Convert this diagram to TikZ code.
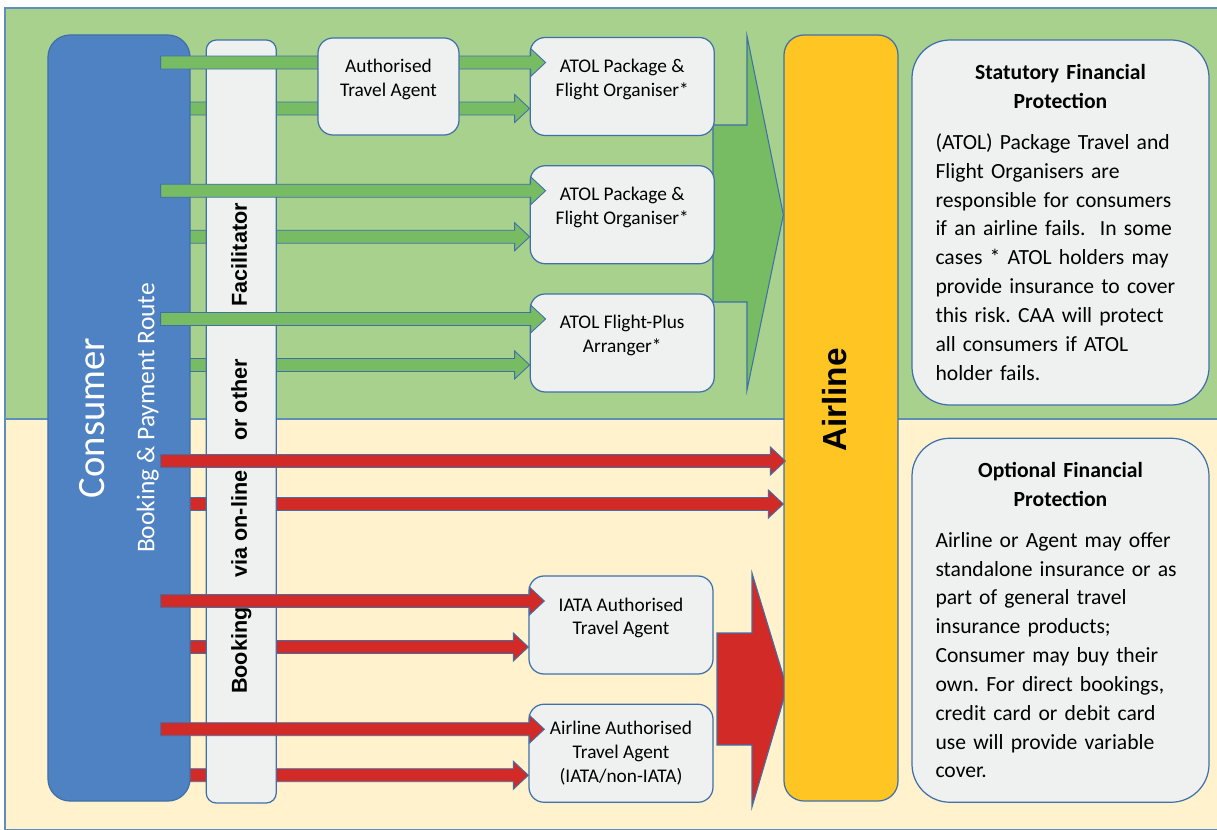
\documentclass[tikz,border=0pt]{standalone}
\usepackage{fontspec}
\setmainfont{Carlito}
\newfontfamily\arialfont{Liberation Sans}
\usetikzlibrary{positioning,calc}

\definecolor{bggreen}{HTML}{A9D18E}
\definecolor{bgcream}{HTML}{FFF2CC}
\definecolor{framec}{HTML}{5E8FBA}
\definecolor{edgeblue}{HTML}{3F70AA}
\definecolor{consblue}{HTML}{4F82C2}
\definecolor{boxgray}{HTML}{EFF0F0}
\definecolor{airyellow}{HTML}{FFC522}
\definecolor{arrgreen}{HTML}{77BB63}
\definecolor{arrred}{HTML}{D12A27}

\pgfdeclarelayer{bg}
\pgfdeclarelayer{low}
\pgfdeclarelayer{front}
\pgfsetlayers{bg,low,main,front}

\begin{document}
\begin{tikzpicture}[
            x=0.2mm, y=-0.2mm,
            font=\fontsize{11}{13.6}\selectfont,
            node distance=5.8mm and 14mm,
            zone/.style={draw=framec, line width=1pt},
            bar/.style={draw=edgeblue, line width=0.7pt, minimum height=153.2mm},
            agent/.style={draw=edgeblue, line width=0.7pt, fill=boxgray, rounded corners=3mm,
            minimum width=36.8mm, minimum height=19.6mm, align=center},
            lift/.style={text depth=3.5mm},
            sidebox/.style={draw=edgeblue, line width=0.7pt, fill=boxgray, rounded corners=7.6mm,
            minimum width=59.4mm, text width=50mm, align=left,
            font=\fontsize{12.3}{16.4}\selectfont\frenchspacing},
            vtext/.style={rotate=90, font=\arialfont\bfseries\fontsize{12.3}{14}\selectfont},
            blk/.style={to path={let \p1=(\tikztostart), \p2=(\tikztotarget) in
            (\x1,\y1+1.3mm) -- (\x2-3mm,\y1+1.3mm) -- (\x2-3mm,\y1+2.8mm) -- (\x2,\y1)
            -- (\x2-3mm,\y1-2.8mm) -- (\x2-3mm,\y1-1.3mm) -- (\x1,\y1-1.3mm) -- cycle}},
            garr/.style={blk, fill=arrgreen, draw=edgeblue, line width=0.5pt},
            rarr/.style={blk, fill=arrred, draw=edgeblue, line width=0.5pt},
            bigarr/.style={draw=edgeblue, line width=0.6pt}
        ]
            \useasboundingbox (0,0) rectangle (1217,829);

% --- background zones ---
            \begin{pgfonlayer}{bg}
            \draw[zone, fill=bggreen] (5,8)   rectangle (1218,419);
            \draw[zone, fill=bgcream] (5,419) rectangle (1218,830);
            \end{pgfonlayer}

% --- consumer and facilitator columns ---
            \node[bar, fill=consblue, minimum width=28.4mm, rounded corners=4.4mm] (cons) at (119,418) {};
            \node[bar, fill=boxgray, minimum width=14mm, minimum height=152.6mm, rounded corners=2mm,
                  right=3mm of cons, yshift=-0.7mm]                     (fac)  {};
            \node[rotate=90, text=white, align=center, font=\fontsize{14.5}{28.4}\selectfont]
                  (constxt) at (cons.center) {{\fontsize{22}{28.4}\selectfont Consumer}\\Booking \& Payment Route};
            \node[vtext] (factxt) at ($(fac.center)+(0,27)$)
                  {Booking\hspace{17pt}via on-line\hspace{17pt}or other\hspace{30pt}Facilitator};

% --- agents and organisers ---
            \begin{pgfonlayer}{front}
            \node[agent, lift, minimum width=28.2mm, minimum height=19.4mm] (auth) at (388.5,86.5) {Authorised\\Travel Agent};
            \end{pgfonlayer}
            \node[agent, lift, right=of auth]                   (atol1) {ATOL Package \&\\Flight Organiser*};
            \node[agent, lift, below=of atol1]                  (atol2) {ATOL Package \&\\Flight Organiser*};
            \node[agent, lift, below=of atol2]                  (atol3) {ATOL Flight-Plus\\Arranger*};
            \node[agent, lift] at (621,625)                     (iata)  {IATA Authorised\\Travel Agent};
            \node[agent, below=of iata]                         (aa)    {Airline Authorised\\Travel Agent\\(IATA/non-IATA)};

% --- airline column ---
            \node[bar, fill=airyellow, minimum width=22.8mm, rounded corners=4mm] (air) at (841,418) {};
            \node[vtext, font=\arialfont\bfseries\fontsize{19}{22}\selectfont] (airtxt) at ($(air.center)+(-6,-18)$) {Airline};

% --- protection notes ---
            \node[sidebox, minimum height=73mm] (stat) at (1060.5,222.5)
                  {{\centering\bfseries Statutory Financial\\Protection\par}\vspace{6.8pt}
                   (ATOL) Package Travel and\\
                   Flight Organisers are\\
                   responsible for consumers\\
                   if an airline fails.\ \ In some\\
                   cases * ATOL holders may\\
                   provide insurance to cover\\
                   this risk. CAA will protect\\
                   all consumers if ATOL\\
                   holder fails.};
            \node[sidebox, minimum height=72.8mm, below=6.4mm of stat] (opt)
                  {{\centering\bfseries Optional Financial\\Protection\par}\vspace{6.8pt}
                   Airline or Agent may offer\\
                   standalone insurance or as\\
                   part of general travel\\
                   insurance products;\\
                   Consumer may buy their\\
                   own. For direct bookings,\\
                   credit card or debit card\\
                   use will provide variable\\
                   cover.};

% rear arrows: pass behind the columns
            \begin{pgfonlayer}{low}
            \foreach \tgt in {atol1,atol2,atol3}
                \draw[garr] ($(cons.east |- \tgt.west)+(-30,22)$) to (\tgt.west);
            \foreach \tgt in {iata,aa}
                \draw[rarr] ($(cons.east |- \tgt.west)+(-30,22)$) to (\tgt.west);
            \draw[rarr] ($(cons.east |- air.west)+(-30,86)$) to (air.west);

            % big block arrows into the airline
            \draw[bigarr, fill=arrgreen] (713,125) -- (747,125) -- (747,36) -- (air.west |- atol2.east)
                  -- (747,390) -- (747,302) -- (713,302) -- cycle;
            \draw[bigarr, fill=arrred] (717,633) -- (752,633) -- (752,573) -- (787,688)
                  -- (752,807) -- (752,745) -- (717,745) -- cycle;
            \end{pgfonlayer}

% front arrows: drawn over the columns
            \foreach \tgt in {atol1,atol2,atol3}
                \draw[garr] ($(cons.east |- \tgt.west)+(-30,-24)$) to ($(\tgt.west)+(16,0)$);
            \foreach \tgt in {iata,aa}
                \draw[rarr] ($(cons.east |- \tgt.west)+(-30,-24)$) to ($(\tgt.west)+(16,0)$);
            \draw[rarr] ($(cons.east |- air.west)+(-30,43)$) to ($(air.west)+(2,0)$);
        \end{tikzpicture}
\end{document}
